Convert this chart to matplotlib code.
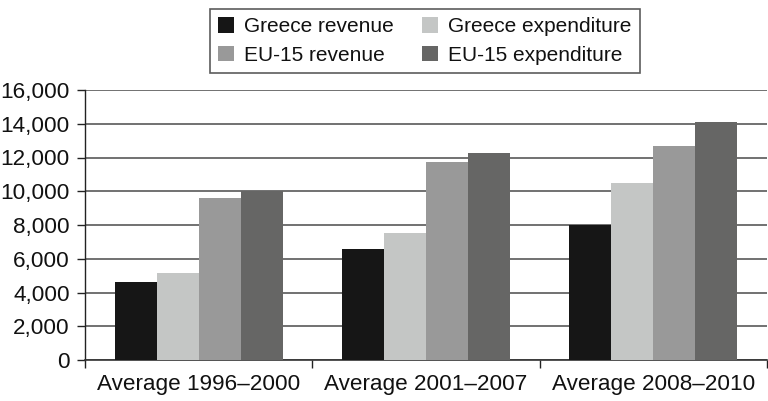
import matplotlib
matplotlib.use("Agg")
import matplotlib.pyplot as plt
import numpy as np
from matplotlib.patches import Patch

plt.rcParams['font.family'] = ['Liberation Sans', 'DejaVu Sans']

periods = ["Average 1996\u20132000", "Average 2001\u20132007", "Average 2008\u20132010"]
greece_revenue = [4600, 6600, 8000]
greece_expenditure = [5150, 7500, 10500]
eu15_revenue = [9600, 11750, 12700]
eu15_expenditure = [10000, 12250, 14100]

series = [
    ("Greece revenue", greece_revenue, "#161616"),
    ("Greece expenditure", greece_expenditure, "#c4c6c5"),
    ("EU-15 revenue", eu15_revenue, "#999999"),
    ("EU-15 expenditure", eu15_expenditure, "#666665"),
]

FS = 16.2
LFS = 15

fig = plt.figure(figsize=(7.68, 4.01), dpi=100)
ax = fig.add_axes([85 / 768, 1 - 360 / 401, 682 / 768, 270 / 401])

x = np.arange(len(periods))
w = 0.185
for i, (name, vals, col) in enumerate(series):
    ax.bar(x + (i - 1.5) * w, vals, width=w, color=col, edgecolor='none', zorder=3)

ax.set_xlim(-0.5, 2.5)
ax.set_ylim(0, 16000)
ax.set_yticks(np.arange(0, 16001, 2000))
ax.set_yticklabels([f"{v:,}" for v in range(0, 16001, 2000)])
ax.yaxis.grid(True, color='#4a4a4a', linewidth=1.1, zorder=0)
ax.set_axisbelow(True)

# group separators as major ticks, category names on minor ticks
ax.set_xticks([-0.5, 0.5, 1.5, 2.5])
ax.set_xticklabels([])
ax.set_xticks(x, minor=True)
ax.set_xticklabels(periods, minor=True)
ax.tick_params(axis='x', which='major', direction='out', length=5.5, width=1.0, color='#222222')
ax.tick_params(axis='x', which='minor', length=0, pad=10, labelsize=FS, labelcolor='#111111')
ax.tick_params(axis='y', direction='out', length=6, width=1.0, color='#222222',
               labelsize=FS, labelcolor='#111111', pad=5)

for side in ('top', 'right'):
    ax.spines[side].set_visible(False)
ax.spines['left'].set_color('#222222')
ax.spines['bottom'].set_color('#333333')
ax.spines['left'].set_linewidth(1.0)
ax.spines['bottom'].set_linewidth(1.2)

order = [0, 2, 1, 3]
handles = [Patch(facecolor=series[k][2], edgecolor='none') for k in order]
labels = [series[k][0] for k in order]
leg = fig.legend(handles, labels, ncol=2, loc='center',
                 bbox_to_anchor=(425 / 768, 1 - 41 / 401),
                 fontsize=LFS, frameon=True, fancybox=False, shadow=False,
                 handlelength=0.77, handleheight=0.77, handletextpad=0.48,
                 columnspacing=1.34, labelspacing=0.45, borderpad=0.4,
                 borderaxespad=0)
frame = leg.get_frame()
frame.set_edgecolor('#333333')
frame.set_linewidth(1.2)
for t in leg.get_texts():
    t.set_color('#111111')

fig.savefig("out.png", dpi=100)
